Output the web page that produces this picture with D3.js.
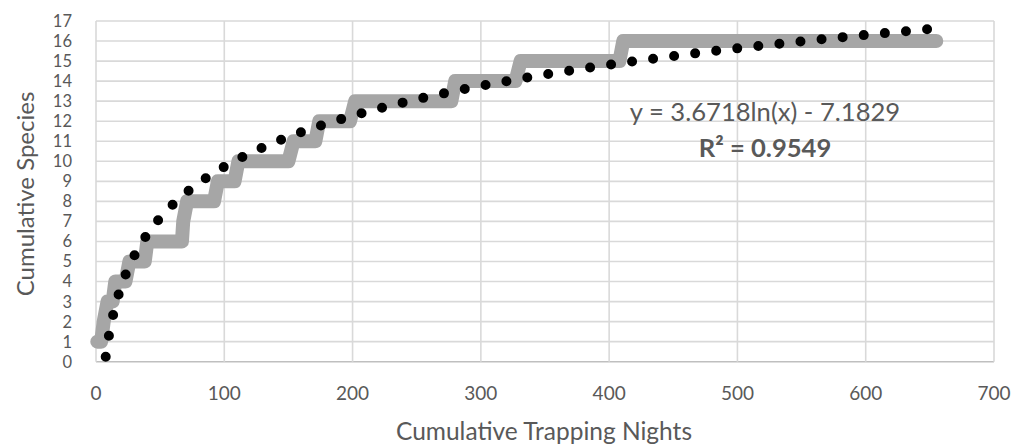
<!DOCTYPE html>
<html>
<head>
<meta charset="utf-8">
<script src="https://cdn.jsdelivr.net/npm/d3@7"></script>
<style>
  html, body { margin: 0; padding: 0; background: #fff; }
  svg { display: block; }
  text { font-family: Lato, "Open Sans", sans-serif; fill: #595959; }
</style>
</head>
<body>
<svg id="chart" width="1023" height="447"></svg>
<script>
// Cumulative trapping nights vs. cumulative species (species accumulation curve)
const trapNights = [1, 4, 6, 9, 13, 15, 23, 26, 38, 40, 67, 68, 71, 92, 95, 108, 111, 150, 154, 171, 174, 198, 202, 277, 280, 327, 331, 408, 411, 655];
const species    = [1, 1, 2, 3, 3, 4, 4, 5, 5, 6, 6, 7, 8, 8, 9, 9, 10, 10, 11, 11, 12, 12, 13, 13, 14, 14, 15, 15, 16, 16];

// Logarithmic trendline y = a ln(x) + b
const trendA = 3.6718;
const trendB = -7.1829;
const trendLabel = "y = 3.6718ln(x) - 7.1829";
const r2Label = "R² = 0.9549";

const xTicks = [0, 100, 200, 300, 400, 500, 600, 700];
const yTicks = d3.range(0, 18);

const svg = d3.select("#chart");
const x = d3.scaleLinear().domain([0, 700]).range([96, 994]);
const y = d3.scaleLinear().domain([0, 17]).range([361.7, 21]);

// gridlines
const grid = svg.append("g");
grid.selectAll("line.h").data(yTicks).join("line")
  .attr("x1", x(0)).attr("x2", x(700))
  .attr("y1", d => y(d)).attr("y2", d => y(d))
  .attr("stroke", d => d === 0 ? "#bfbfbf" : "#d9d9d9").attr("stroke-width", 1.6);
grid.selectAll("line.v").data(xTicks).join("line")
  .attr("y1", y(0)).attr("y2", y(17))
  .attr("x1", d => x(d)).attr("x2", d => x(d))
  .attr("stroke", "#d9d9d9").attr("stroke-width", 1.6);

// tick labels
svg.append("g").selectAll("text").data(yTicks).join("text")
  .attr("x", 72).attr("y", d => y(d)).attr("dy", "0.36em")
  .attr("text-anchor", "end").attr("font-size", 16.5)
  .text(d => d);
svg.append("g").selectAll("text").data(xTicks).join("text")
  .attr("x", d => x(d)).attr("y", 393).attr("dy", "0.36em")
  .attr("text-anchor", "middle").attr("font-size", 19)
  .text(d => d);

// axis titles
svg.append("text").attr("x", 544).attr("y", 440)
  .attr("text-anchor", "middle").attr("font-size", 24.5)
  .text("Cumulative Trapping Nights");
svg.append("text")
  .attr("transform", "translate(34,194) rotate(-90)")
  .attr("text-anchor", "middle").attr("font-size", 24)
  .text("Cumulative Species");

// observed accumulation
const pts = trapNights.map((t, i) => [t, species[i]]);
svg.append("path")
  .attr("d", d3.line().x(d => x(d[0])).y(d => y(d[1]))(pts))
  .attr("fill", "none").attr("stroke", "#a6a6a6")
  .attr("stroke-width", 14).attr("stroke-linecap", "round").attr("stroke-linejoin", "round");

// trendline, starting where it crosses the axis minimum
const xStart = Math.exp((0 - trendB) / trendA);
const xEnd = d3.max(trapNights);
const trendPts = d3.range(xStart, xEnd, 0.5).concat([xEnd]).map(t => [t, trendA * Math.log(t) + trendB]);
svg.append("path")
  .attr("d", d3.line().x(d => x(d[0])).y(d => y(d[1]))(trendPts))
  .attr("fill", "none").attr("stroke", "#000")
  .attr("stroke-width", 10).attr("stroke-linecap", "round")
  .attr("stroke-dasharray", "0 21.2").attr("stroke-dashoffset", 16.2);

// trendline label
svg.append("text").attr("x", 765).attr("y", 121)
  .attr("text-anchor", "middle").attr("font-size", 25.6)
  .text(trendLabel);
svg.append("text").attr("x", 765).attr("y", 157)
  .attr("text-anchor", "middle").attr("font-size", 25.6).attr("font-weight", "bold")
  .text(r2Label);
</script>
</body>
</html>
